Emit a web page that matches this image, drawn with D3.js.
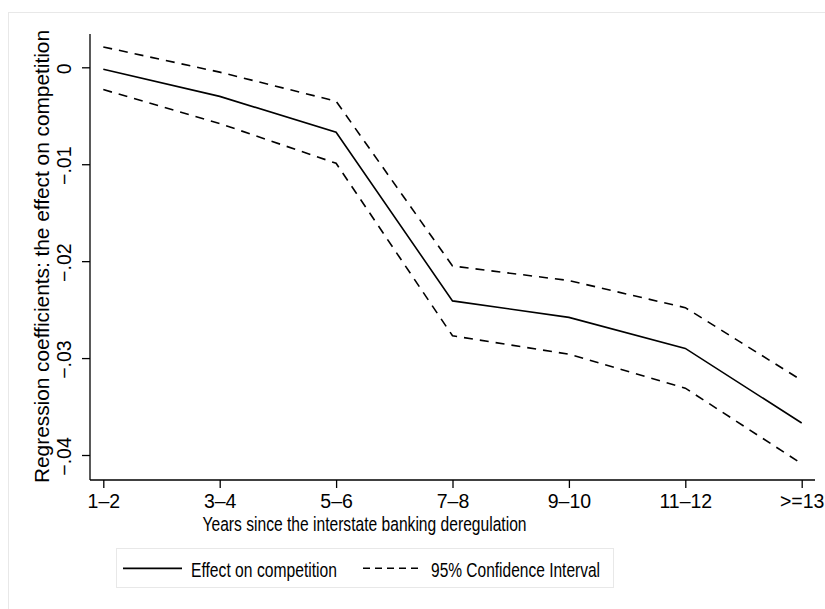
<!DOCTYPE html>
<html>
<head>
<meta charset="utf-8">
<script src="https://cdn.jsdelivr.net/npm/d3@7"></script>
<style>
  body { margin: 0; background: #fff; }
  text { font-family: "Liberation Sans", Arial, Helvetica, sans-serif; fill: #000; }
</style>
</head>
<body>
<div id="chart"></div>
<script>
// categories on the x axis
const categories = ["1–2", "3–4", "5–6", "7–8", "9–10", "11–12", ">=13"];

// point estimates and the 95% band
const effect = [-0.0002, -0.0030, -0.0067, -0.0241, -0.0258, -0.0290, -0.0367];
const upper  = [0.0021, -0.0005, -0.0035, -0.0205, -0.0220, -0.0248, -0.0323];
const lower  = [-0.0023, -0.0058, -0.0099, -0.0277, -0.0296, -0.0331, -0.0409];

// y axis ticks
const yTicks = [0, -0.01, -0.02, -0.03, -0.04];
const yTickLabels = ["0", "−.01", "−.02", "−.03", "−.04"];

const legendLabels = ["Effect on competition", "95% Confidence Interval"];

const width = 825, height = 609;
const plot = {left: 90, right: 815, top: 34, bottom: 480};

const svg = d3.select("#chart")
  .append("svg")
    .attr("width", width)
    .attr("height", height);

// outer graph region border
svg.append("rect")
    .attr("x", 8.5).attr("y", 12.5)
    .attr("width", 840).attr("height", 620)
    .attr("fill", "#fff")
    .attr("stroke", "#e8e8e8");

// scales
const x = d3.scalePoint()
    .domain(categories)
    .range([103.3, 801.7]);
const y = d3.scaleLinear()
    .domain([-0.042579, 0.003436])
    .range([plot.bottom, plot.top]);

// axes
const xAxis = svg.append("g")
    .attr("transform", `translate(0,${plot.bottom})`)
    .call(d3.axisBottom(x).tickSize(8).tickSizeOuter(0));
xAxis.select(".domain").remove();
xAxis.selectAll("line").attr("stroke", "#000").attr("stroke-width", 1.3);
xAxis.selectAll("text")
    .attr("font-size", 19.5)
    .attr("y", 27.7)
    .attr("dy", null)
    .style("font-family", "'Liberation Sans', Arial, sans-serif");

const yAxis = svg.append("g")
    .attr("transform", `translate(${plot.left},0)`)
    .call(d3.axisLeft(y).tickValues(yTicks).tickSize(8).tickSizeOuter(0)
      .tickFormat((d, i) => yTickLabels[i]));
yAxis.select(".domain").remove();
yAxis.selectAll("line").attr("stroke", "#000").attr("stroke-width", 1.3);
yAxis.selectAll("text")
    .attr("font-size", 19.5)
    .attr("x", null).attr("dy", null)
    .attr("text-anchor", "middle")
    .attr("transform", "translate(-19.5,1) rotate(-90)")
    .style("font-family", "'Liberation Sans', Arial, sans-serif");

// axis lines
svg.append("line")
    .attr("x1", plot.left).attr("x2", plot.right)
    .attr("y1", plot.bottom).attr("y2", plot.bottom)
    .attr("stroke", "#000").attr("stroke-width", 1.3);
svg.append("line")
    .attr("x1", plot.left).attr("x2", plot.left)
    .attr("y1", plot.top).attr("y2", plot.bottom)
    .attr("stroke", "#000").attr("stroke-width", 1.3);

// lines
const line = d3.line()
    .x((d, i) => x(categories[i]))
    .y(d => y(d));

svg.append("path")
    .datum(upper)
    .attr("d", line)
    .attr("fill", "none").attr("stroke", "#000")
    .attr("stroke-width", 1.6)
    .attr("stroke-dasharray", "9,7");
svg.append("path")
    .datum(lower)
    .attr("d", line)
    .attr("fill", "none").attr("stroke", "#000")
    .attr("stroke-width", 1.6)
    .attr("stroke-dasharray", "9,7");
svg.append("path")
    .datum(effect)
    .attr("d", line)
    .attr("fill", "none").attr("stroke", "#000")
    .attr("stroke-width", 1.6);

// axis titles
svg.append("text")
    .attr("x", 364.5).attr("y", 531)
    .attr("text-anchor", "middle")
    .attr("font-size", 20.5)
    .attr("textLength", 324)
    .attr("lengthAdjust", "spacingAndGlyphs")
    .text("Years since the interstate banking deregulation");

svg.append("text")
    .attr("transform", "translate(48.5,256.5) rotate(-90)")
    .attr("text-anchor", "middle")
    .attr("font-size", 21)
    .attr("textLength", 453)
    .attr("lengthAdjust", "spacingAndGlyphs")
    .text("Regression coefficients: the effect on competition");

// legend
const legend = svg.append("g");
legend.append("rect")
    .attr("x", 116.5).attr("y", 548.5)
    .attr("width", 497).attr("height", 39)
    .attr("fill", "#fff")
    .attr("stroke", "#e8e8e8");
legend.append("line")
    .attr("x1", 123).attr("x2", 182)
    .attr("y1", 568.3).attr("y2", 568.3)
    .attr("stroke", "#000").attr("stroke-width", 1.7);
legend.append("line")
    .attr("x1", 363).attr("x2", 420)
    .attr("y1", 568.3).attr("y2", 568.3)
    .attr("stroke", "#000").attr("stroke-width", 1.6)
    .attr("stroke-dasharray", "7,5");
legend.append("text")
    .attr("x", 191).attr("y", 576.5)
    .attr("font-size", 20.5)
    .attr("textLength", 146)
    .attr("lengthAdjust", "spacingAndGlyphs")
    .text(legendLabels[0]);
legend.append("text")
    .attr("x", 431).attr("y", 576.5)
    .attr("font-size", 20.5)
    .attr("textLength", 169)
    .attr("lengthAdjust", "spacingAndGlyphs")
    .text(legendLabels[1]);
</script>
</body>
</html>
